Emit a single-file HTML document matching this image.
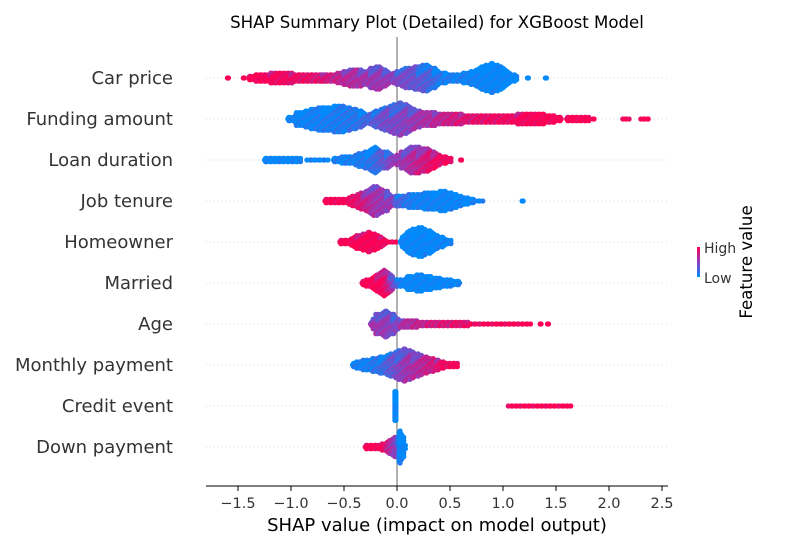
<!DOCTYPE html>
<html><head><meta charset="utf-8"><style>
body{margin:0;background:#fff;}
svg{display:block;font-family:"DejaVu Sans","Liberation Sans",sans-serif;}
</style></head><body>
<svg id="chart" width="800" height="550" viewBox="0 0 800 550" xmlns="http://www.w3.org/2000/svg">
<defs><linearGradient id="cb" x1="0" y1="1" x2="0" y2="0"><stop offset="0" stop-color="#008afb"/><stop offset="0.5" stop-color="#8c3fc0"/><stop offset="1" stop-color="#ff0052"/></linearGradient></defs>
<text x="437" y="28" text-anchor="middle" font-size="16.6" fill="#000">SHAP Summary Plot (Detailed) for XGBoost Model</text>
<g id="grid"></g>
<line x1="397" y1="37" x2="397" y2="486" stroke="#999" stroke-width="1.5"/>
<g id="dots"></g>
<g id="labels"></g>
<line x1="206" y1="486" x2="668" y2="486" stroke="#000" stroke-width="1"/>
<g id="xticks"></g>
<text x="437" y="531" text-anchor="middle" font-size="18" fill="#000">SHAP value (impact on model output)</text>
<rect x="697" y="247" width="3" height="30" fill="url(#cb)"/>
<text x="704" y="253" font-size="14" fill="#333">High</text>
<text x="704" y="283" font-size="14" fill="#333">Low</text>
<text x="752" y="262" font-size="16.6" fill="#000" text-anchor="middle" transform="rotate(-90 752 262)">Feature value</text>
</svg>
<script>
const features = ["Car price","Funding amount","Loan duration","Job tenure","Homeowner","Married","Age","Monthly payment","Credit event","Down payment"];
// segments: [shapStart, shapEnd, halfStackCount, featureValue(0=low,1=high)]
const carPrice = [[-1.6,-1.6,0,1],[-1.45,-1.45,0,1],[-1.4,-1.2,2,1],[-1.2,-1.0,3,0.95],[-1.0,-0.7,2,0.9],[-0.7,-0.5,2,0.75],[-0.5,-0.35,5,0.65],[-0.35,-0.25,4,0.6],[-0.25,-0.12,7,0.55],[-0.12,0.0,2,0.5],[0.0,0.2,6,0.4],[0.2,0.35,8,0.3],[0.35,0.45,3,0.15],[0.45,0.7,2,0.05],[0.7,0.8,5,0.03],[0.8,1.0,9,0],[1.0,1.12,3,0],[1.23,1.23,0,0],[1.4,1.4,0,0]];
const fundingAmount = [[-1.03,-0.95,1,0],[-0.92,-0.7,6,0.05],[-0.7,-0.35,8,0.1],[-0.35,-0.22,2,0.2],[-0.22,-0.05,6,0.4],[-0.05,0.12,10,0.45],[0.12,0.35,4,0.6],[0.35,0.6,3,0.75],[0.6,1.13,2,0.9],[1.13,1.54,3,1],[1.6,1.8,1,1],[1.85,1.85,0,1],[2.13,2.18,0,1],[2.3,2.37,0,1]];
const loanDuration = [[-1.25,-0.92,1,0],[-0.85,-0.66,0,0],[-0.6,-0.28,2,0.05],[-0.28,-0.13,8,0.2],[-0.1,0.04,1,0.5],[0.06,0.2,8,0.65],[0.2,0.34,7,0.8],[0.34,0.5,2,0.95],[0.6,0.6,0,1]];
const jobTenure = [[-0.68,-0.32,1,1],[-0.32,-0.1,9,0.6],[-0.1,0.0,2,0.5],[0.0,0.34,4,0.05],[0.34,0.55,6,0.02],[0.55,0.7,2,0],[0.7,0.8,0,0],[1.18,1.18,0,0]];
const homeowner = [[-0.54,-0.38,1,1],[-0.38,-0.16,6,1],[-0.16,-0.02,0,1],[0.03,0.15,6,0],[0.15,0.3,9,0],[0.3,0.42,4,0],[0.42,0.5,1,0]];
const married = [[-0.33,-0.19,2,1],[-0.19,-0.07,8,0.97],[-0.07,0.0,2,0.4],[0.0,0.1,2,0],[0.1,0.31,5,0],[0.31,0.58,2,0]];
const age = [[-0.25,-0.2,3,0.6],[-0.18,-0.04,8,0.55],[-0.04,0.03,3,0.4],[0.03,0.66,1,0.8],[0.66,1.25,0,1],[1.35,1.35,0,1],[1.42,1.42,0,1]];
const monthlyPayment = [[-0.42,-0.16,3,0.05],[-0.16,0.0,6,0.3],[0.0,0.15,10,0.55],[0.15,0.37,5,0.7],[0.37,0.56,1,0.95]];
const creditEvent = [[-0.02,-0.02,9,0],[1.05,1.63,0,1]];
const downPayment = [[-0.3,-0.02,1,1],[0.0,0.04,10,0],[0.04,0.07,6,0]];
const seriesList = [carPrice,fundingAmount,loanDuration,jobTenure,homeowner,married,age,monthlyPayment,creditEvent,downPayment];
const xTicks = [-1.5,-1.0,-0.5,0.0,0.5,1.0,1.5,2.0,2.5];

const NS="http://www.w3.org/2000/svg";
function xScale(v){return 397+v*106;}
function yRow(i){return 78+i*41;}
function color(t){
  t=Math.max(0,Math.min(1,t));
  const a=[0,138,251],m=[140,63,192],b=[255,0,82];
  let c;
  if(t<0.5){const u=t/0.5;c=a.map((x,k)=>Math.round(x+(m[k]-x)*u));}
  else{const u=(t-0.5)/0.5;c=m.map((x,k)=>Math.round(x+(b[k]-x)*u));}
  return "rgb("+c.join(",")+")";
}
const grid=document.getElementById("grid"),dots=document.getElementById("dots"),labels=document.getElementById("labels"),xt=document.getElementById("xticks");
features.forEach((f,i)=>{
  const y=yRow(i);
  const gl=document.createElementNS(NS,"line");
  gl.setAttribute("x1",206);gl.setAttribute("x2",668);gl.setAttribute("y1",y);gl.setAttribute("y2",y);
  gl.setAttribute("stroke","#ccc");gl.setAttribute("stroke-width","0.8");gl.setAttribute("stroke-dasharray","1,3");
  
  
  grid.appendChild(gl);
  const t=document.createElementNS(NS,"text");
  t.setAttribute("x",173);t.setAttribute("y",y+6);t.setAttribute("text-anchor","end");
  t.setAttribute("font-size","18");t.setAttribute("fill","#333");t.textContent=f;
  
  
  labels.appendChild(t);
  const g=document.createElementNS(NS,"g");
  
  
  dots.appendChild(g);
  const segs=seriesList[i];
  segs.forEach((s,si)=>{
    const [x0,x1,n,c]=s;
    const prev=segs[si-1],next=segs[si+1];
    const nL=(prev&&x0-prev[1]<0.04)?(prev[2]+n)/2:Math.min(n,1);
    const nR=(next&&next[0]-x1<0.04)?(next[2]+n)/2:Math.min(n,1);
    const cL=(prev&&x0-prev[1]<0.04)?(prev[3]+c)/2:c;
    const cR=(next&&next[0]-x1<0.04)?(next[3]+c)/2:c;
    const steps=Math.max(1,Math.round((x1-x0)/0.02));
    for(let j=0;j<=steps;j++){
      const u=steps?j/steps:0.5;
      const v=x0+(x1-x0)*u;
      let nn,cc;
      if(x1===x0){nn=n;cc=c;}
      else if(u<0.5){nn=nL+(n-nL)*(u/0.5);cc=cL+(c-cL)*(u/0.5);}
      else{nn=n+(nR-n)*((u-0.5)/0.5);cc=c+(cR-c)*((u-0.5)/0.5);}
      const kmax=Math.round(nn);
      for(let k=-kmax;k<=kmax;k++){
        const d=document.createElementNS(NS,"circle");
        const off=((k+j)%2===0)?0:1;
        d.setAttribute("cx",(xScale(v)+off).toFixed(1));
        d.setAttribute("cy",(y+k*1.6).toFixed(1));
        d.setAttribute("r","2.6");
        d.setAttribute("fill",color(cc+((k+j)%3-1)*0.1));
        
        
        g.appendChild(d);
      }
    }
  });
});
xTicks.forEach(v=>{
  const x=xScale(v);
  const l=document.createElementNS(NS,"line");
  l.setAttribute("x1",x);l.setAttribute("x2",x);l.setAttribute("y1",486);l.setAttribute("y2",491);
  l.setAttribute("stroke","#000");
  
  
  xt.appendChild(l);
  const t=document.createElementNS(NS,"text");
  t.setAttribute("x",x);t.setAttribute("y",508);t.setAttribute("text-anchor","middle");
  t.setAttribute("font-size","14.5");t.setAttribute("fill","#333");
  t.textContent=(v<0?"\u2212":"")+Math.abs(v).toFixed(1);
  
  
  xt.appendChild(t);
});
</script>
</body></html>
